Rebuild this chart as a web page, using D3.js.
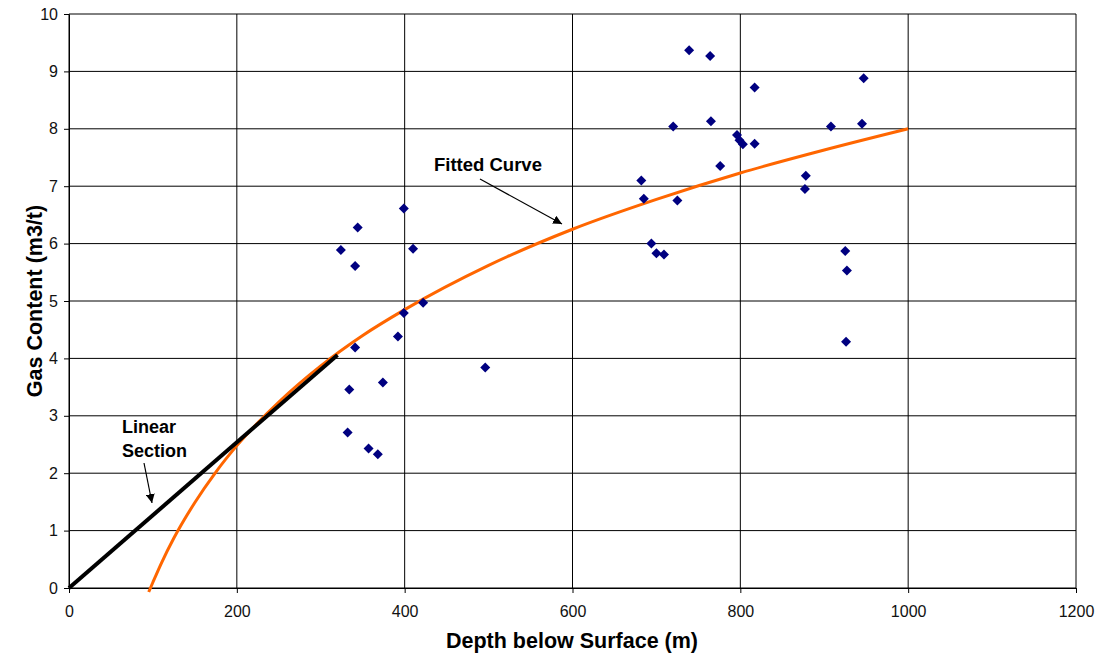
<!DOCTYPE html>
<html>
<head>
<meta charset="utf-8">
<script src="https://cdn.jsdelivr.net/npm/d3@7"></script>
<style>
  html, body { margin: 0; padding: 0; background: #fff; }
  svg { display: block; font-family: "Liberation Sans", Arial, sans-serif; }
</style>
</head>
<body>
<svg id="chart" width="1100" height="658"></svg>
<script>
// Measured samples: depth (m) and gas content (m3/t)
const sampleDepth = [324, 344, 341, 399, 410, 422, 399, 392, 341, 374, 334, 496, 332, 357, 368,
  739, 764, 947, 817, 720, 765, 908, 945, 796, 799, 803, 817, 776, 878, 877, 682, 685, 725,
  694, 700, 709, 925, 927, 926];
const sampleGas = [5.89, 6.28, 5.61, 6.61, 5.91, 4.97, 4.79, 4.38, 4.19, 3.58, 3.46, 3.84, 2.71, 2.43, 2.33,
  9.37, 9.27, 8.88, 8.72, 8.04, 8.13, 8.04, 8.09, 7.89, 7.80, 7.73, 7.74, 7.35, 7.18, 6.95, 7.10, 6.78, 6.75,
  6.00, 5.83, 5.81, 5.87, 5.53, 4.29];

// Fitted curve, sampled along its length
const fitDepth = [95, 100, 110, 125, 150, 175, 200, 250, 300, 350, 400, 500, 600, 700, 800, 900, 1000];
const fitGas = [-0.07, 0.10, 0.43, 0.87, 1.49, 2.02, 2.48, 3.24, 3.87, 4.40, 4.85, 5.62, 6.25, 6.77, 7.23, 7.63, 8.00];

// Linear section end points
const linDepth = [0, 320];
const linGas = [0, 4.06];

// Axis ticks
const xTicks = [0, 200, 400, 600, 800, 1000, 1200];
const yTicks = [0, 1, 2, 3, 4, 5, 6, 7, 8, 9, 10];

const svg = d3.select("#chart");
const plotLeft = 69, plotRight = 1076, plotTop = 14, plotBottom = 588;

const x = d3.scaleLinear().domain([0, 1200]).range([plotLeft, plotRight]);
const y = d3.scaleLinear().domain([0, 10]).range([plotBottom, plotTop]);

// Grid lines
const grid = svg.append("g").attr("stroke", "#000").attr("stroke-width", 1);
grid.selectAll("line.h").data(yTicks).join("line")
  .attr("class", "h")
  .attr("x1", plotLeft).attr("x2", plotRight)
  .attr("y1", d => y(d)).attr("y2", d => y(d));
grid.selectAll("line.v").data(xTicks).join("line")
  .attr("class", "v")
  .attr("x1", d => x(d)).attr("x2", d => x(d))
  .attr("y1", plotTop).attr("y2", plotBottom);

// Axes
const xAxis = svg.append("g")
  .attr("transform", `translate(0,${plotBottom})`)
  .call(d3.axisBottom(x).tickValues(xTicks).tickFormat(d3.format("d"))
    .tickSize(5).tickPadding(6).tickSizeOuter(0));
const yAxis = svg.append("g")
  .attr("transform", `translate(${plotLeft},0)`)
  .call(d3.axisLeft(y).tickValues(yTicks).tickFormat(d3.format("d"))
    .tickSize(5).tickPadding(6).tickSizeOuter(0));
[xAxis, yAxis].forEach(a => {
  a.select(".domain").attr("stroke", "#000");
  a.selectAll(".tick line").attr("stroke", "#000");
  a.selectAll(".tick text")
    .attr("fill", "#111")
    .style("font-family", "'Liberation Sans', Arial, sans-serif")
    .style("font-size", "16px");
});
xAxis.selectAll(".tick text").attr("dy", "18px");

// Fitted curve
const fitPts = fitDepth.map((d, i) => [d, fitGas[i]]);
svg.append("path")
  .datum(fitPts)
  .attr("fill", "none")
  .attr("stroke", "#FF6600")
  .attr("stroke-width", 3)
  .attr("d", d3.line().x(d => x(d[0])).y(d => y(d[1])).curve(d3.curveMonotoneX));

// Linear section
const linPts = linDepth.map((d, i) => [d, linGas[i]]);
svg.append("path")
  .datum(linPts)
  .attr("fill", "none")
  .attr("stroke", "#000")
  .attr("stroke-width", 4)
  .attr("d", d3.line().x(d => x(d[0])).y(d => y(d[1])));

// Sample points as diamonds
const pts = sampleDepth.map((d, i) => [d, sampleGas[i]]);
svg.append("g").selectAll("path").data(pts).join("path")
  .attr("d", d3.symbol(d3.symbolSquare, 50))
  .attr("fill", "#000080")
  .attr("transform", d => `translate(${x(d[0])},${y(d[1])}) rotate(45)`);

// Annotations
svg.append("defs").append("marker")
  .attr("id", "arrow")
  .attr("viewBox", "0 0 10 10")
  .attr("refX", 10).attr("refY", 5)
  .attr("markerWidth", 9).attr("markerHeight", 9)
  .attr("markerUnits", "userSpaceOnUse")
  .attr("orient", "auto")
  .append("path").attr("d", "M0,0 L10,5 L0,10 Z").attr("fill", "#000");

const labelFont = "'Liberation Sans', Arial, sans-serif";
svg.append("text")
  .attr("x", 434).attr("y", 171)
  .attr("font-family", labelFont).attr("font-size", 18.5).attr("font-weight", "bold")
  .text("Fitted Curve");
svg.append("line")
  .attr("x1", 480).attr("y1", 179).attr("x2", 562).attr("y2", 224)
  .attr("stroke", "#000").attr("stroke-width", 1.2)
  .attr("marker-end", "url(#arrow)");

svg.append("text")
  .attr("x", 122).attr("y", 433)
  .attr("font-family", labelFont).attr("font-size", 18).attr("font-weight", "bold")
  .text("Linear");
svg.append("text")
  .attr("x", 122).attr("y", 457)
  .attr("font-family", labelFont).attr("font-size", 18).attr("font-weight", "bold")
  .text("Section");
svg.append("line")
  .attr("x1", 144).attr("y1", 463).attr("x2", 152).attr("y2", 503)
  .attr("stroke", "#000").attr("stroke-width", 1.2)
  .attr("marker-end", "url(#arrow)");

// Axis titles
svg.append("text")
  .attr("x", 572).attr("y", 648)
  .attr("text-anchor", "middle")
  .attr("font-family", labelFont).attr("font-size", 21.5).attr("font-weight", "bold")
  .text("Depth below Surface (m)");
svg.append("text")
  .attr("transform", "translate(42,301) rotate(-90)")
  .attr("text-anchor", "middle")
  .attr("font-family", labelFont).attr("font-size", 21.5).attr("font-weight", "bold")
  .text("Gas Content (m3/t)");
</script>
</body>
</html>
